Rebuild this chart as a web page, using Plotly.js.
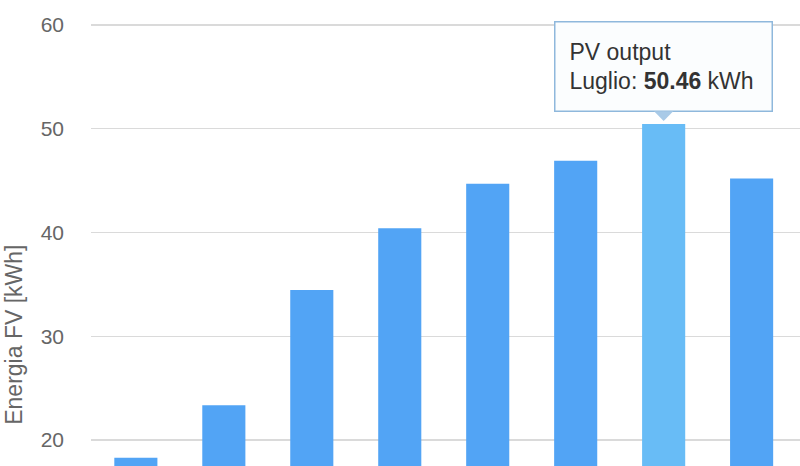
<!DOCTYPE html>
<html>
<head>
<meta charset="utf-8">
<script src="https://cdn.plot.ly/plotly-3.0.1.min.js"></script>
<style>
  html, body { margin: 0; padding: 0; background: #fff; }
  #plot { width: 800px; height: 466px; }
</style>
</head>
<body>
<div id="plot"></div>
<script>
// monthly PV energy (kWh)
var months = ["Gennaio", "Febbraio", "Marzo", "Aprile", "Maggio", "Giugno", "Luglio", "Agosto"];
var energy = [18.3, 23.35, 34.45, 40.4, 44.7, 46.9, 50.46, 45.2];
var yTicks = [20, 30, 40, 50, 60];
var seriesName = "PV output";
var hovered = 6; // Luglio

var barColors = months.map(function (m, i) {
  return i === hovered ? "#68bcf6" : "#52a4f5";
});

var pv = {
  x: months,
  y: energy,
  type: "bar",
  name: seriesName,
  marker: { color: barColors },
  hoverinfo: "none"
};

var layout = {
  width: 800,
  height: 466,
  margin: { l: 91, r: 0, t: 0, b: 0 },
  paper_bgcolor: "#fff",
  plot_bgcolor: "#fff",
  showlegend: false,
  bargap: 0.51,
  font: { family: "Liberation Sans, Arial, sans-serif", color: "#666" },
  xaxis: {
    range: [-0.51, 7.55],
    showticklabels: false,
    showgrid: false,
    zeroline: false,
    automargin: false
  },
  yaxis: {
    range: [17.5, 62.4],
    tickvals: yTicks,
    ticktext: yTicks.map(String),
    tickfont: { size: 21, color: "#666" },
    ticks: "",
    ticklabelstandoff: 26,
    gridcolor: "#dadada",
    gridwidth: 1.5,
    zeroline: false,
    showline: false,
    automargin: false
  },
  annotations: [
    {
      text: "Energia FV [kWh]",
      textangle: -90,
      xref: "paper", yref: "paper",
      x: -0.109, y: 0.281,
      xanchor: "center", yanchor: "middle",
      showarrow: false,
      font: { size: 23, color: "#666" }
    },
    {
      x: months[hovered],
      y: energy[hovered],
      text: seriesName + "<br>" + months[hovered] + ": <b>" + energy[hovered].toFixed(2) + "</b> kWh",
      align: "left",
      showarrow: true,
      arrowhead: 1,
      arrowsize: 3.2,
      arrowwidth: 1,
      arrowcolor: "#a9cae7",
      standoff: 3,
      ax: 0,
      ay: -57,
      width: 188,
      height: 60,
      borderpad: 14,
      bgcolor: "#fbfdfe",
      bordercolor: "#8fb8dc",
      borderwidth: 1.5,
      font: { size: 23, color: "#333" }
    }
  ]
};

Plotly.newPlot("plot", [pv], layout, { displayModeBar: false, staticPlot: true });
</script>
</body>
</html>
